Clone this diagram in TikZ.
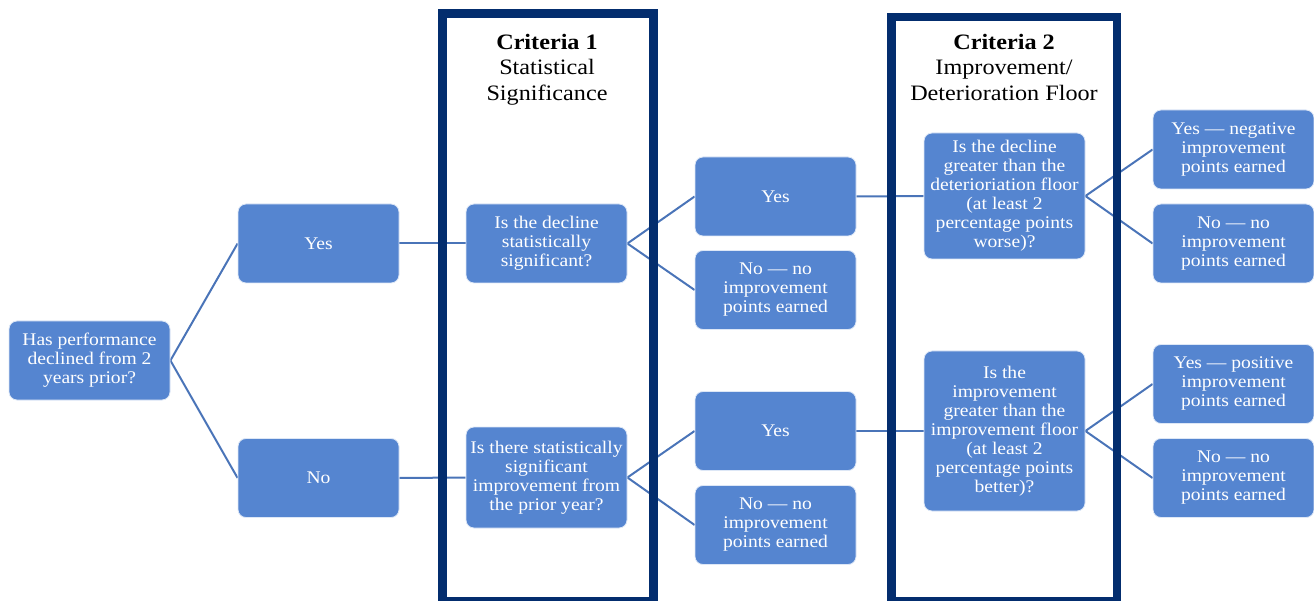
\documentclass[tikz,border=0pt]{standalone}
\usepackage{fontspec}
\setmainfont[FakeStretch=1.1]{Liberation Serif}
\definecolor{boxfill}{HTML}{5585D0}
\definecolor{linecol}{HTML}{4A74B8}
\definecolor{framecol}{HTML}{032D6E}
\pgfdeclarelayer{bg}
\pgfdeclarelayer{mid}
\pgfsetlayers{bg,mid,main}
\tikzset{
  qbox/.style={draw=white!80!boxfill, line width=0.8pt, fill=boxfill, rounded corners=8pt, text=white,
    align=center, inner sep=0pt, font=\fontsize{17.8}{19}\selectfont, minimum width=161pt},
  conn/.style={draw=linecol, line width=2pt},
  frame/.style={draw=framecol, line width=8.5pt},
  ttl/.style={align=center, font=\fontsize{22}{25.5}\selectfont, text=black, inner sep=0pt}
}
\begin{document}
\begin{tikzpicture}[x=1pt,y=-1pt]
\useasboundingbox (0,0) rectangle (1314,601);
% boxes (positions in px)
\node[qbox, minimum height=79pt] (root) at (89.5,360.5) {Has performance\\declined from 2\\years prior?};
\node[qbox, minimum height=79pt] (yes1) at (318.5,243.5) {Yes};
\node[qbox, minimum height=79pt] (no1) at (318.5,478) {No};
\node[qbox, minimum height=79pt] (sigd) at (546.5,243.5) {Is the decline\\statistically\\significant?};
\node[qbox, minimum height=101pt] (sigi) at (546.5,477.5) {Is there statistically\\significant\\improvement from\\the prior year?};
\node[qbox, minimum height=79pt] (yes2) at (775.5,196.5) {Yes};
\node[qbox, minimum height=79pt] (no2) at (775.5,290) {No --- no\\improvement\\points earned};
\node[qbox, minimum height=79pt] (yes3) at (775.5,431) {Yes};
\node[qbox, minimum height=79pt] (no3) at (775.5,525) {No --- no\\improvement\\points earned};
\node[qbox, minimum height=126pt] (flrd) at (1004.5,196) {Is the decline\\greater than the\\deterioriation floor\\(at least 2\\percentage points\\worse)?};
\node[qbox, minimum height=160pt] (flri) at (1004.5,431) {Is the\\improvement\\greater than the\\improvement floor\\(at least 2\\percentage points\\better)?};
\node[qbox, minimum height=79pt] (neg) at (1233.5,149.5) {Yes --- negative\\improvement\\points earned};
\node[qbox, minimum height=79pt] (no4) at (1233.5,243.5) {No --- no\\improvement\\points earned};
\node[qbox, minimum height=79pt] (pos) at (1233.5,384) {Yes --- positive\\improvement\\points earned};
\node[qbox, minimum height=79pt] (no5) at (1233.5,478) {No --- no\\improvement\\points earned};
% titles
\node[ttl, anchor=north] (t1) at (547,34) {\textbf{Criteria 1}\\Statistical\\Significance};
\node[ttl, anchor=north] (t2) at (1004,34) {\textbf{Criteria 2}\\Improvement/\\Deterioration Floor};
% frames
\begin{pgfonlayer}{mid}
\draw[frame] (442.5,13.5) rectangle (653.5,601);
\draw[frame] (891.5,17) rectangle (1117,601);
\end{pgfonlayer}
% connectors
\begin{pgfonlayer}{bg}
\draw[conn] (root.east) -- (yes1.west);
\draw[conn] (root.east) -- (no1.west);
\draw[conn] (yes1.east) -- (sigd.west);
\draw[conn] (no1.east) -- (sigi.west);
\draw[conn] (sigd.east) -- (yes2.west);
\draw[conn] (sigd.east) -- (no2.west);
\draw[conn] (sigi.east) -- (yes3.west);
\draw[conn] (sigi.east) -- (no3.west);
\draw[conn] (yes2.east) -- (flrd.west);
\draw[conn] (yes3.east) -- (flri.west);
\draw[conn] (flrd.east) -- (neg.west);
\draw[conn] (flrd.east) -- (no4.west);
\draw[conn] (flri.east) -- (pos.west);
\draw[conn] (flri.east) -- (no5.west);
\end{pgfonlayer}
\end{tikzpicture}
\end{document}
